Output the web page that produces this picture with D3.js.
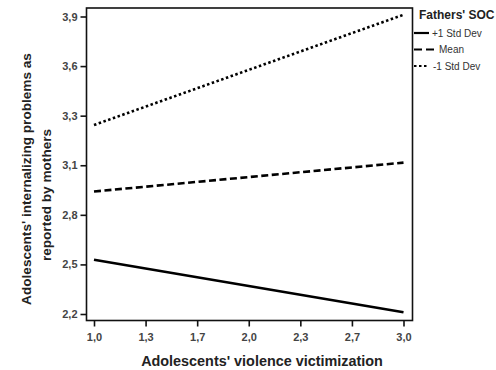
<!DOCTYPE html>
<html>
<head>
<meta charset="utf-8">
<script src="https://cdn.jsdelivr.net/npm/d3@7"></script>
<style>
  body { margin: 0; background: #fff; }
  text { font-family: "Liberation Sans", Arial, sans-serif; }
</style>
</head>
<body>
<svg id="chart" width="496" height="370"></svg>
<script>
// values
const xPoints = [1.0, 3.0];
const seriesNames = ['+1 Std Dev', 'Mean', '-1 Std Dev'];
const plusOneSD = [2.51, 2.21];
const meanSOC = [2.90, 3.065];
const minusOneSD = [3.28, 3.91];
const xTickLabels = ['1,0', '1,3', '1,7', '2,0', '2,3', '2,7', '3,0'];
const yTickLabels = ['2,2', '2,5', '2,8', '3,1', '3,3', '3,6', '3,9'];

const svg = d3.select('#chart');

const frame = { left: 86.5, right: 412.5, top: 8, bottom: 320.5 };

const x = d3.scaleLinear().domain([1, 3]).range([94, 403.5]);
const y = d3.scaleLinear().domain([2.2, 3.9]).range([314, 16.5]);

const xTicks = xTickLabels.map((_, i) => 1 + i * (2 / (xTickLabels.length - 1)));
const yTicks = yTickLabels.map((_, i) => 2.2 + i * (1.7 / (yTickLabels.length - 1)));

// frame
svg.append('rect')
	.attr('x', frame.left)
	.attr('y', frame.top)
	.attr('width', frame.right - frame.left)
	.attr('height', frame.bottom - frame.top)
	.attr('fill', 'none')
	.attr('stroke', '#111')
	.attr('stroke-width', 1.6);

function styleTicks(g) {
	g.select('.domain').remove();
	g.selectAll('.tick line').attr('stroke', '#111').attr('stroke-width', 1.6);
	g.selectAll('.tick text')
		.attr('fill', '#444')
		.style('font-size', '11px')
		.style('font-weight', 'bold')
		.style('font-family', '"Liberation Sans", Arial, sans-serif');
}

// y axis
svg.append('g')
	.attr('transform', `translate(${frame.left},0)`)
	.call(d3.axisLeft(y)
		.tickValues(yTicks)
		.tickSize(6)
		.tickPadding(3)
		.tickFormat((d, i) => yTickLabels[i]))
	.call(styleTicks);

// x axis
svg.append('g')
	.attr('transform', `translate(0,${frame.bottom})`)
	.call(d3.axisBottom(x)
		.tickValues(xTicks)
		.tickSize(6)
		.tickPadding(7)
		.tickFormat((d, i) => xTickLabels[i]))
	.call(styleTicks);

// axis titles
svg.append('text')
	.attr('transform', 'translate(31,179) rotate(-90)')
	.attr('text-anchor', 'middle')
	.attr('fill', '#222')
	.style('font-size', '13.6px')
	.style('font-weight', 'bold')
	.text("Adolescents' internalizing problems as");

svg.append('text')
	.attr('transform', 'translate(51,195) rotate(-90)')
	.attr('text-anchor', 'middle')
	.attr('fill', '#222')
	.style('font-size', '13.6px')
	.style('font-weight', 'bold')
	.text('reported by mothers');

svg.append('text')
	.attr('x', 262)
	.attr('y', 366)
	.attr('text-anchor', 'middle')
	.attr('fill', '#222')
	.style('font-size', '14.4px')
	.style('font-weight', 'bold')
	.text("Adolescents' violence victimization");

// series
const series = [
	{ name: seriesNames[0], values: plusOneSD, dash: null, key: null },
	{ name: seriesNames[1], values: meanSOC, dash: '7,3.5', key: '8,4' },
	{ name: seriesNames[2], values: minusOneSD, dash: '2.5,2.5', key: '2.5,2.5' }
];

const line = d3.line()
	.x((d, i) => x(xPoints[i]))
	.y(d => y(d));

svg.append('g')
	.selectAll('path')
	.data(series)
	.enter().append('path')
	.attr('d', d => line(d.values))
	.attr('fill', 'none')
	.attr('stroke', '#000')
	.attr('stroke-width', 2.6)
	.attr('stroke-dasharray', d => d.dash);

// legend
const legend = svg.append('g');

legend.append('text')
	.attr('x', 419)
	.attr('y', 19)
	.attr('fill', '#222')
	.style('font-size', '12px')
	.style('font-weight', 'bold')
	.text("Fathers' SOC");

const legendRows = [33, 49.5, 66];
const legendTextX = [432, 439, 433];

const item = legend.selectAll('.item')
	.data(series)
	.enter().append('g')
	.attr('class', 'item');

item.append('line')
	.attr('x1', 414)
	.attr('x2', (d, i) => i === 1 ? 434 : 429)
	.attr('y1', (d, i) => legendRows[i])
	.attr('y2', (d, i) => legendRows[i])
	.attr('stroke', '#000')
	.attr('stroke-width', 2.2)
	.attr('stroke-dasharray', d => d.key);

item.append('text')
	.attr('x', (d, i) => legendTextX[i])
	.attr('y', (d, i) => legendRows[i] + 3.5)
	.attr('fill', '#333')
	.style('font-size', '10px')
	.text(d => d.name);
</script>
</body>
</html>
